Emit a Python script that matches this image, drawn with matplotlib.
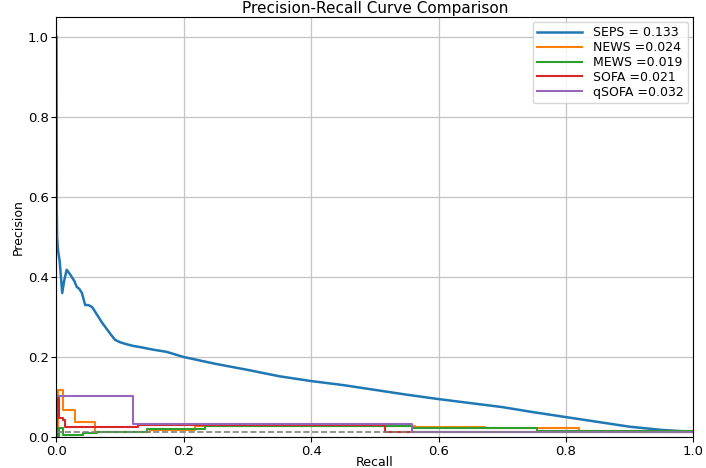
import matplotlib
matplotlib.use("Agg")
import matplotlib.pyplot as plt

# SEPS precision-recall points
seps_recall = [0.0, 0.0005, 0.001, 0.002, 0.003, 0.005, 0.007, 0.009, 0.012, 0.016,
               0.020, 0.024, 0.028, 0.032, 0.036, 0.040, 0.045, 0.050, 0.056, 0.064,
               0.072, 0.079, 0.086, 0.092, 0.100, 0.110, 0.120, 0.131, 0.150, 0.173,
               0.200, 0.250, 0.300, 0.350, 0.400, 0.450, 0.500, 0.550, 0.600, 0.650,
               0.700, 0.750, 0.800, 0.850, 0.900, 0.950, 1.0]
seps_precision = [1.0, 0.57, 0.50, 0.475, 0.46, 0.44, 0.40, 0.36, 0.39, 0.418,
                  0.41, 0.40, 0.39, 0.375, 0.37, 0.36, 0.33, 0.33, 0.325, 0.305,
                  0.285, 0.27, 0.255, 0.243, 0.237, 0.232, 0.228, 0.225, 0.219, 0.213,
                  0.200, 0.183, 0.168, 0.152, 0.140, 0.130, 0.118, 0.106, 0.095, 0.085,
                  0.075, 0.062, 0.050, 0.038, 0.026, 0.018, 0.013]

# step curves: recall breakpoints and the precision level that starts there
news_recall = [0.0, 0.002, 0.010, 0.029, 0.060, 0.147, 0.218, 0.563, 0.673, 0.820, 0.917, 1.0]
news_precision = [0.0, 0.117, 0.068, 0.038, 0.013, 0.017, 0.027, 0.025, 0.022, 0.015, 0.013, 0.013]

mews_recall = [0.0, 0.004, 0.010, 0.042, 0.064, 0.142, 0.233, 0.558, 0.755, 1.0]
mews_precision = [0.0, 0.022, 0.005, 0.010, 0.013, 0.020, 0.028, 0.022, 0.015, 0.015]

sofa_recall = [0.0, 0.001, 0.004, 0.010, 0.013, 0.128, 0.516, 1.0]
sofa_precision = [0.0, 0.097, 0.047, 0.042, 0.025, 0.030, 0.013, 0.013]

qsofa_recall = [0.0, 0.120, 0.558, 1.0]
qsofa_precision = [0.1025, 0.032, 0.013, 0.013]

baseline = 0.013

labels = ["SEPS = 0.133", "NEWS =0.024", "MEWS =0.019", "SOFA =0.021", "qSOFA =0.032"]
colors = ["#1f77b4", "#ff7f0e", "#2ca02c", "#d62728", "#9467bd"]

fig = plt.figure(figsize=(7.06, 4.68), dpi=100)
ax = fig.add_subplot(111)
fig.subplots_adjust(left=0.08, right=0.982, top=0.964, bottom=0.066)

ax.plot(seps_recall, seps_precision, color=colors[0], lw=1.8, label=labels[0])
ax.step(news_recall, news_precision, where="post", color=colors[1], lw=1.5, label=labels[1])
ax.step(mews_recall, mews_precision, where="post", color=colors[2], lw=1.5, label=labels[2])
ax.step(sofa_recall, sofa_precision, where="post", color=colors[3], lw=1.5, label=labels[3])
ax.step(qsofa_recall, qsofa_precision, where="post", color=colors[4], lw=1.5, label=labels[4])
ax.axhline(baseline, color="gray", ls="--", lw=1.2)

ax.set_xlim(0, 1.0)
ax.set_ylim(0, 1.05)
ax.set_xticks([0.0, 0.2, 0.4, 0.6, 0.8, 1.0])
ax.set_yticks([0.0, 0.2, 0.4, 0.6, 0.8, 1.0])
ax.tick_params(labelsize=9.5, pad=2)
ax.grid(True, color="#c4c4c4", lw=0.9)
ax.set_xlabel("Recall", fontsize=9, labelpad=-1)
ax.set_ylabel("Precision", fontsize=9, labelpad=2)
ax.set_title("Precision-Recall Curve Comparison", fontsize=11, pad=3)
ax.legend(loc="upper right", fontsize=9, handlelength=3.6, borderaxespad=0.4,
          labelspacing=0.15, borderpad=0.35, handletextpad=0.9)

fig.savefig("out.png", dpi=100)
